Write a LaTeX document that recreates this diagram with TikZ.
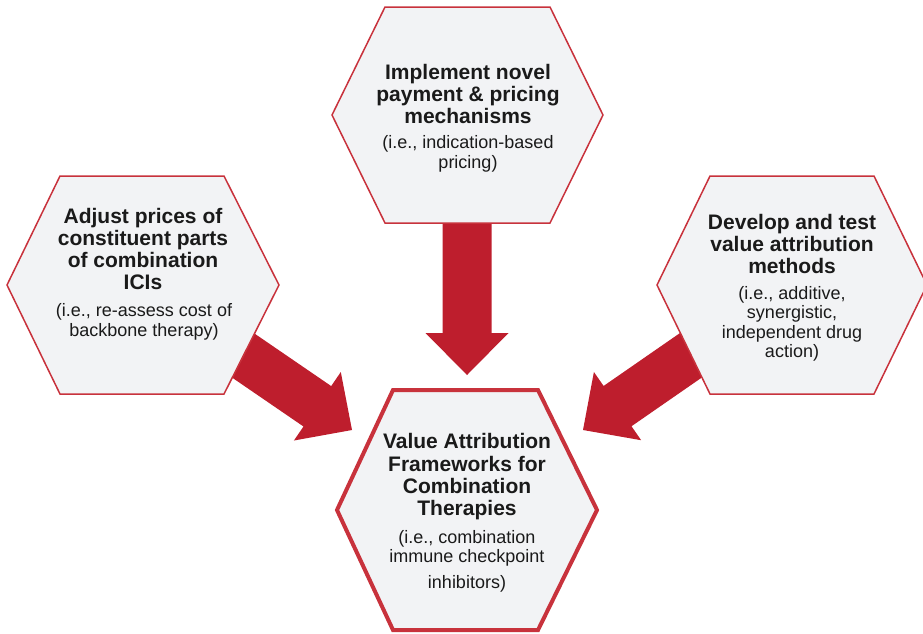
\documentclass[tikz,border=0pt]{standalone}
\usepackage{fontspec}
\setmainfont{Liberation Sans}
\definecolor{hexred}{HTML}{C8323C}
\definecolor{arrowred}{HTML}{BE1E2D}
\definecolor{hexfill}{HTML}{F2F3F5}
\definecolor{txt}{HTML}{1A1A1A}
\newcommand{\fatarrow}[3]{%
  \begin{scope}[shift={(#1)}, rotate=#2]
    \fill[arrowred] (0,0) -- (-42,41.5) -- (-42,24.5) -- (-#3,24.5) -- (-#3,-24.5) -- (-42,-24.5) -- (-42,-41.5) -- cycle;
  \end{scope}}
\begin{document}
\begin{tikzpicture}[x=1pt,y=-1pt,
  hex/.style={draw=hexred, line width=1.5pt, fill=hexfill, line join=miter},
  hexmain/.style={hex, line width=4pt},
  title/.style={align=center, font=\fontsize{21}{22.3}\selectfont\bfseries, text=txt, inner sep=0pt},
  sub/.style={align=center, font=\fontsize{18}{19.5}\selectfont, text=txt, inner sep=0pt}]
\useasboundingbox (0,0) rectangle (923,633);
% arrow tips
\coordinate (tipT) at (467,375);
\coordinate (tipL) at (352,430);
\coordinate (tipR) at (583,430);
\fatarrow{tipT}{-90}{160}
\fatarrow{tipL}{-34.4}{150}
\fatarrow{tipR}{-145.3}{150}
% hexagons
\draw[hex] (385,7) -- (550,7) -- (603,115) -- (550,223) -- (385,223) -- (332,115) -- cycle;
\draw[hex] (60,176) -- (224,176) -- (279,285) -- (224,394) -- (60,394) -- (7,285) -- cycle;
\draw[hex] (710,176) -- (874,176) -- (927,285) -- (874,394) -- (710,394) -- (657,285) -- cycle;
\draw[hexmain] (393,390) -- (538,390) -- (597,510) -- (538,630) -- (393,630) -- (337,510) -- cycle;
% texts
\node[title] (tT) at (468,94) {Implement novel\\payment \& pricing\\mechanisms};
\node[sub] (sT) at (468,154) {(i.e., indication-based\\pricing)};
\node[title] (tL) at (143,249) {Adjust prices of\\constituent parts\\of combination\\ICIs};
\node[sub] (sL) at (144,322) {(i.e., re-assess cost of\\backbone therapy)};
\node[title] (tR) at (792,244) {Develop and test\\value attribution\\methods};
\node[sub] (sR) at (792,324) {(i.e., additive,\\synergistic,\\independent drug\\action)};
\node[title] (tB) at (467,477) {Value Attribution\\Frameworks for\\Combination\\Therapies};
\node[sub] (sB) at (467,561) {(i.e., combination\\immune checkpoint\\[6pt]inhibitors)};
\end{tikzpicture}
\end{document}
